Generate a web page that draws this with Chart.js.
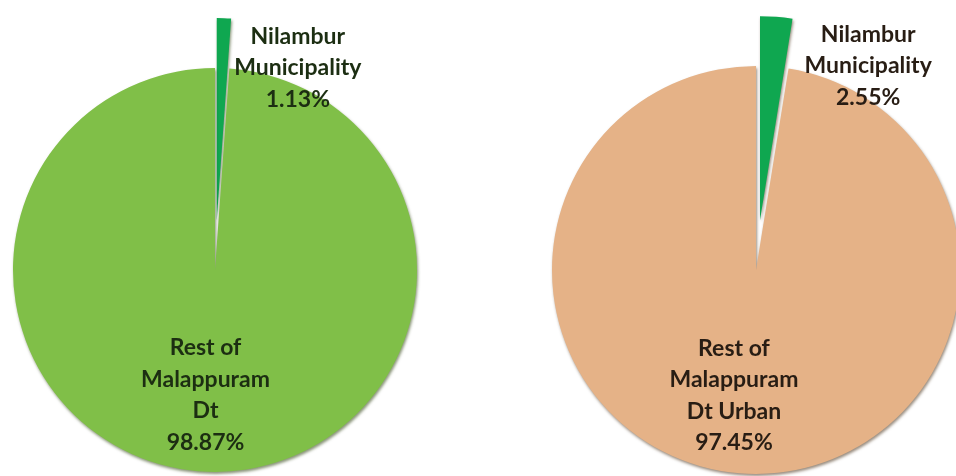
<!DOCTYPE html>
<html>
<head>
<meta charset="utf-8">
<script src="https://cdn.jsdelivr.net/npm/chart.js@4.4.1/dist/chart.umd.min.js"></script>
<style>
  html, body { margin: 0; padding: 0; background: #fff; }
  body { width: 956px; height: 476px; position: relative; overflow: hidden; }
  .pie { position: absolute; top: 0; height: 476px; }
  #boxDistrict { left: 0; width: 430px; }
  #boxUrban { left: 478px; width: 478px; }
</style>
</head>
<body>
<div class="pie" id="boxDistrict"><canvas id="pieDistrict"></canvas></div>
<div class="pie" id="boxUrban"><canvas id="pieUrban"></canvas></div>
<script>
// Share of Nilambur Municipality in Malappuram district (total and urban)
const districtLabels = [['Nilambur', 'Municipality'], ['Rest of', 'Malappuram', 'Dt']];
const districtValues = [1.13, 98.87];
const urbanLabels = [['Nilambur', 'Municipality'], ['Rest of', 'Malappuram', 'Dt Urban']];
const urbanValues = [2.55, 97.45];
// which slice is pulled out of the pie
const explodedSlice = [true, false];

// Pulls the flagged slices away from the centre along their middle angle
const explodePlugin = {
    id: 'explode',
    afterDatasetUpdate(chart, args, opts) {
        const meta = chart.getDatasetMeta(args.index);
        meta.data.forEach((arc, i) => {
            if (!explodedSlice[i]) return;
            const mid = (arc.startAngle + arc.endAngle) / 2;
            arc.x += Math.cos(mid) * opts.distance;
            arc.y += Math.sin(mid) * opts.distance;
        });
    }
};

// Soft dark rim under the pie
const rimPlugin = {
    id: 'rim',
    beforeDatasetDraw(chart, args, opts) {
        const ctx = chart.ctx;
        ctx.save();
        ctx.shadowColor = opts.color;
        ctx.shadowBlur = 3;
        ctx.shadowOffsetX = 1;
        ctx.shadowOffsetY = 2;
    },
    afterDatasetDraw(chart) {
        chart.ctx.restore();
    }
};

// Category name plus percentage, placed relative to the pie centre
const sliceLabelPlugin = {
    id: 'sliceLabels',
    afterDatasetsDraw(chart, args, opts) {
        const ctx = chart.ctx;
        const area = chart.chartArea;
        const cx = (area.left + area.right) / 2;
        const cy = (area.top + area.bottom) / 2;
        const meta = chart.getDatasetMeta(0);
        const r = meta.data[0].outerRadius;
        const values = chart.data.datasets[0].data;
        ctx.save();
        ctx.font = opts.font;
        ctx.fillStyle = opts.color;
        ctx.textAlign = 'center';
        ctx.textBaseline = 'middle';
        chart.data.labels.forEach((lines, i) => {
            const all = lines.concat([values[i].toFixed(2) + '%']);
            const x = cx + opts.anchors[i][0] * r;
            const y0 = cy + opts.anchors[i][1] * r - (all.length - 1) * opts.lineHeight / 2;
            all.forEach((t, k) => ctx.fillText(t, x, y0 + k * opts.lineHeight));
        });
        ctx.restore();
    }
};

function makePie(id, labels, values, colors, radius, padding, anchors, textColor, rimColor) {
    const ctx = document.getElementById(id).getContext('2d');
    return new Chart(ctx, {
        type: 'pie',
        data: {
            labels: labels,
            datasets: [{
                data: values,
                backgroundColor: colors,
                borderWidth: 0
            }]
        },
        options: {
            responsive: true,
            maintainAspectRatio: false,
            animation: false,
            radius: radius,
            layout: { padding: padding },
            plugins: {
                legend: { display: false },
                tooltip: { enabled: false },
                explode: { distance: 50 },
                rim: { color: rimColor },
                sliceLabels: {
                    anchors: anchors,
                    font: 'bold 23px Lato',
                    lineHeight: 31.5,
                    color: textColor
                }
            }
        },
        plugins: [explodePlugin, rimPlugin, sliceLabelPlugin]
    });
}

makePie('pieDistrict', districtLabels, districtValues, ['#0fa750', '#80bf48'], 202,
    { top: 64, bottom: 0, left: 0, right: 0 },
    [[0.41, -1.0], [-0.047, 0.62]], '#1c2e12', 'rgba(40, 60, 10, 0.55)');

makePie('pieUrban', urbanLabels, urbanValues, ['#0fa750', '#e5b287'], 204,
    { top: 64, bottom: 0, left: 78, right: 0 },
    [[0.55, -1.0], [-0.108, 0.615]], '#281d14', 'rgba(70, 45, 20, 0.55)');
</script>
</body>
</html>
